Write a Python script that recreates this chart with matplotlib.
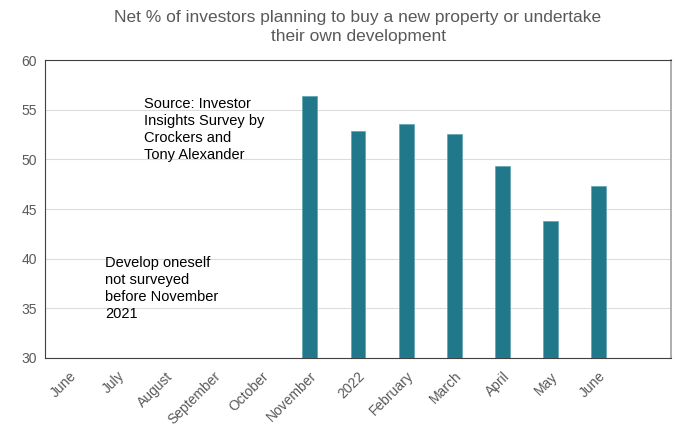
import matplotlib.pyplot as plt

plt.rcParams['font.family'] = ['Liberation Sans', 'DejaVu Sans']

# ----------------------------------------
# Data
# ----------------------------------------
months = ['June', 'July', 'August', 'September', 'October', 'November',
          '2022', 'February', 'March', 'April', 'May', 'June', '']
net_pct = [None, None, None, None, None, 56.4,
           52.9, 53.6, 52.6, 49.3, 43.8, 47.3, None]

bar_color = '#21788a'
grey_text = '#595959'

fig = plt.figure(figsize=(6.76, 4.28), dpi=100)
ax = fig.add_axes([0.0666, 0.1636, 0.926, 0.696])

xs = list(range(len(months)))
vals = [v if v is not None else 0 for v in net_pct]
ax.bar(xs, vals, width=0.31, color=bar_color, edgecolor='#5fa3b3', linewidth=0.5, zorder=3)

ax.set_xlim(-0.5, len(months) - 0.5)
ax.set_ylim(30, 60)
ax.set_yticks(range(30, 61, 5))
ax.set_xticks(xs)
ax.set_xticklabels(months, rotation=45, ha='right', rotation_mode='anchor')
ax.tick_params(axis='both', length=0, labelsize=10, colors=grey_text, pad=6)
ax.tick_params(axis='x', pad=8)
ax.grid(axis='y', color='#dcdcdc', linewidth=0.8, zorder=0)

for side in ['left', 'bottom', 'top']:
    ax.spines[side].set_color('#404040')
ax.spines['right'].set_color('#a0a0a0')
ax.spines['right'].set_linewidth(1.2)

ax.set_title('Net % of investors planning to buy a new property or undertake\ntheir own development',
             fontsize=12.5, color=grey_text, pad=14, linespacing=1.3)

ax.text(1.55, 56.3, 'Source: Investor\nInsights Survey by\nCrockers and\nTony Alexander',
        fontsize=10.5, va='top', ha='left', linespacing=1.28)
ax.text(0.75, 40.3, 'Develop oneself\nnot surveyed\nbefore November\n2021',
        fontsize=10.5, va='top', ha='left', linespacing=1.28)

plt.savefig('out.png', dpi=100)
